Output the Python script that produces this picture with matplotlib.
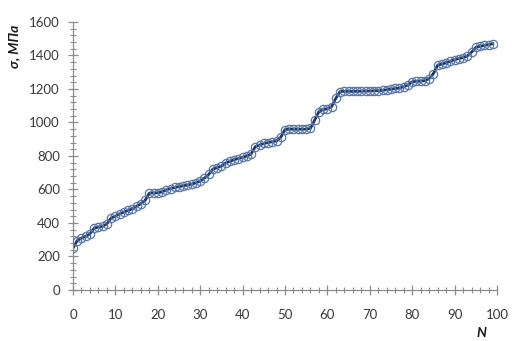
import matplotlib
matplotlib.use("Agg")
import matplotlib.pyplot as plt
from matplotlib.ticker import MultipleLocator

# Measured stress values for specimens N = 0..99
n_values = list(range(100))
sigma_mpa = [
    250, 295, 310, 320, 335, 370, 375, 380, 395, 430,
    440, 455, 465, 475, 485, 500, 515, 535, 578, 580,
    580, 585, 598, 605, 612, 617, 622, 627, 632, 640,
    650, 668, 690, 722, 730, 740, 758, 768, 778, 785,
    792, 800, 812, 856, 865, 875, 880, 885, 890, 912,
    958, 960, 960, 960, 960, 960, 965, 1015, 1065, 1078,
    1082, 1095, 1145, 1185, 1186, 1186, 1186, 1186, 1187, 1188,
    1188, 1189, 1190, 1192, 1196, 1199, 1203, 1206, 1213, 1224,
    1243, 1246, 1247, 1250, 1262, 1292, 1342, 1349, 1356, 1366,
    1375, 1382, 1388, 1397, 1420, 1448, 1455, 1460, 1465, 1470,
]

x_ticks = list(range(0, 101, 10))
y_ticks = list(range(0, 1601, 200))

plt.rcParams["font.family"] = ["Lato", "DejaVu Sans"]

fig = plt.figure(figsize=(5.12, 3.41), dpi=100)
ax = fig.add_axes([0.1426, 0.1496, 0.8281, 0.7859])

line_color = "#1d3466"
marker_edge = "#5877a6"

ax.plot(n_values, sigma_mpa, color=line_color, linewidth=2.0, zorder=2)
ax.plot(n_values, sigma_mpa, linestyle="none", marker="o", markersize=6.0,
        markerfacecolor="none", markeredgecolor=marker_edge,
        markeredgewidth=0.9, zorder=3)

ax.set_xlim(0, 100)
ax.set_ylim(0, 1600)
ax.set_xticks(x_ticks)
ax.set_yticks(y_ticks)
ax.xaxis.set_minor_locator(MultipleLocator(2))
ax.yaxis.set_minor_locator(MultipleLocator(40))

axis_gray = "#8c8c8c"
for side in ("top", "right"):
    ax.spines[side].set_visible(False)
for side in ("left", "bottom"):
    ax.spines[side].set_color(axis_gray)
    ax.spines[side].set_linewidth(0.9)

ax.tick_params(which="major", direction="inout", length=7, width=0.9,
               color=axis_gray, labelsize=9.5, labelcolor="#3a3a3a")
ax.tick_params(which="minor", direction="inout", length=4, width=0.8,
               color=axis_gray)
ax.tick_params(axis="x", which="major", pad=10)
ax.tick_params(axis="y", which="major", pad=6)

fig.text(0.027, 0.865, "σ, МПа", rotation=90, ha="center", va="center",
         fontsize=10, fontweight="bold", fontstyle="italic", color="#1a1a1a")
fig.text(0.941, 0.024, "N", ha="center", va="center",
         fontsize=10, fontweight="bold", fontstyle="italic", color="#1a1a1a")

fig.savefig("out.png", dpi=100, facecolor="white")
